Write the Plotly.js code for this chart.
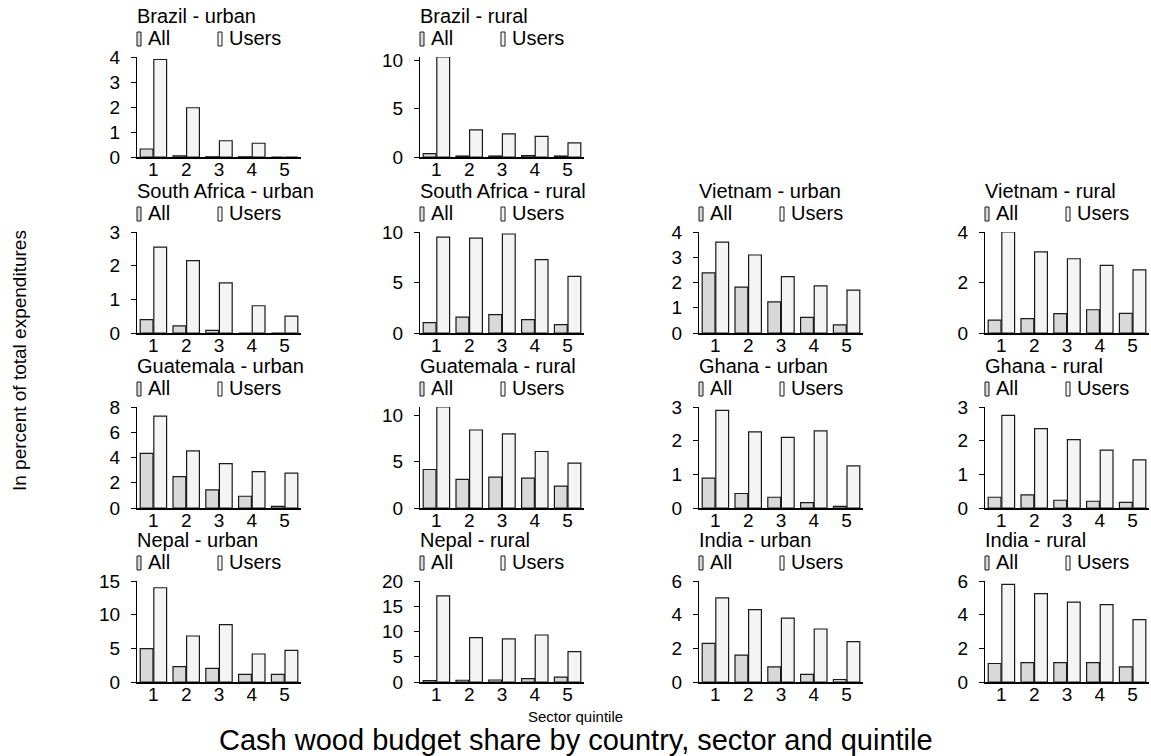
<!DOCTYPE html>
<html>
<head>
<meta charset="utf-8">
<script src="https://cdn.plot.ly/plotly-3.0.1.min.js"></script>
<style>
  html, body { margin: 0; padding: 0; background: #ffffff; }
  #chart { width: 1151px; height: 756px; }
</style>
</head>
<body>
<div id="chart"></div>
<script>
// Quintile categories on every panel's x axis
const quintiles = ['1', '2', '3', '4', '5'];

// Panel titles (country - sector)
const panelTitles = [
  'Brazil - urban', 'Brazil - rural',
  'South Africa - urban', 'South Africa - rural',
  'Vietnam - urban', 'Vietnam - rural',
  'Guatemala - urban', 'Guatemala - rural',
  'Ghana - urban', 'Ghana - rural',
  'Nepal - urban', 'Nepal - rural',
  'India - urban', 'India - rural'
];

// Cash wood budget share, all households (percent of total expenditures)
const brazilUrbanAll   = [0.32, 0.05, 0.01, 0.01, 0.0];
const brazilRuralAll   = [0.35, 0.10, 0.10, 0.15, 0.10];
const safricaUrbanAll  = [0.40, 0.21, 0.08, 0.0, 0.0];
const safricaRuralAll  = [1.02, 1.58, 1.82, 1.32, 0.83];
const vietnamUrbanAll  = [2.38, 1.82, 1.23, 0.62, 0.32];
const vietnamRuralAll  = [0.51, 0.57, 0.77, 0.92, 0.78];
const guatUrbanAll     = [4.32, 2.48, 1.44, 0.93, 0.13];
const guatRuralAll     = [4.17, 3.09, 3.35, 3.24, 2.37];
const ghanaUrbanAll    = [0.89, 0.43, 0.32, 0.16, 0.05];
const ghanaRuralAll    = [0.32, 0.39, 0.23, 0.20, 0.17];
const nepalUrbanAll    = [4.95, 2.28, 2.03, 1.14, 1.14];
const nepalRuralAll    = [0.30, 0.35, 0.40, 0.66, 0.98];
const indiaUrbanAll    = [2.30, 1.60, 0.90, 0.45, 0.15];
const indiaRuralAll    = [1.10, 1.15, 1.15, 1.15, 0.90];

// Cash wood budget share, wood users only
const brazilUrbanUsers  = [3.90, 1.97, 0.65, 0.55, 0.0];
const brazilRuralUsers  = [10.35, 2.80, 2.39, 2.14, 1.47];
const safricaUrbanUsers = [2.55, 2.15, 1.49, 0.81, 0.50];
const safricaRuralUsers = [9.50, 9.40, 9.80, 7.26, 5.61];
const vietnamUrbanUsers = [3.60, 3.09, 2.23, 1.87, 1.70];
const vietnamRuralUsers = [4.00, 3.21, 2.94, 2.68, 2.50];
const guatUrbanUsers    = [7.28, 4.53, 3.52, 2.88, 2.77];
const guatRuralUsers    = [10.94, 8.45, 8.02, 6.12, 4.86];
const ghanaUrbanUsers   = [2.90, 2.26, 2.10, 2.29, 1.25];
const ghanaRuralUsers   = [2.75, 2.36, 2.03, 1.72, 1.43];
const nepalUrbanUsers   = [14.0, 6.83, 8.51, 4.16, 4.70];
const nepalRuralUsers   = [17.05, 8.79, 8.52, 9.31, 6.03];
const indiaUrbanUsers   = [5.00, 4.30, 3.80, 3.15, 2.40];
const indiaRuralUsers   = [5.80, 5.25, 4.75, 4.60, 3.70];

const allSeries = [
  brazilUrbanAll, brazilRuralAll, safricaUrbanAll, safricaRuralAll,
  vietnamUrbanAll, vietnamRuralAll, guatUrbanAll, guatRuralAll,
  ghanaUrbanAll, ghanaRuralAll, nepalUrbanAll, nepalRuralAll,
  indiaUrbanAll, indiaRuralAll
];
const userSeries = [
  brazilUrbanUsers, brazilRuralUsers, safricaUrbanUsers, safricaRuralUsers,
  vietnamUrbanUsers, vietnamRuralUsers, guatUrbanUsers, guatRuralUsers,
  ghanaUrbanUsers, ghanaRuralUsers, nepalUrbanUsers, nepalRuralUsers,
  indiaUrbanUsers, indiaRuralUsers
];

// Y tick step and highest labelled tick for each panel
const tickStep = [1, 5, 1, 5, 1, 2, 2, 5, 1, 1, 5, 5, 2, 2];
const tickTop  = [4, 10, 3, 10, 4, 4, 8, 10, 3, 3, 15, 20, 6, 6];

// Legend labels
const seriesNames = ['All', 'Users'];

// ---- page geometry (pixels) ----
const W = 1151, H = 756;
const panelRow = [0, 0, 1, 1, 1, 1, 2, 2, 2, 2, 3, 3, 3, 3];
const panelCol = [0, 1, 0, 1, 2, 3, 0, 1, 2, 3, 0, 1, 2, 3];
const colLeft = [137, 420, 699, 985];
const plotW = 164;
const rowTop = [57, 232, 407, 581];
const rowBottom = [157, 333, 508, 682];

const FONT = 'Liberation Sans, Arial, sans-serif';
const fillAll = '#d9d9d9';
const fillUsers = '#f4f4f4';
const edge = '#1a1a1a';

const px = v => v / W;
const py = v => 1 - v / H;

const traces = [];
const layout = {
  width: W, height: H,
  margin: { l: 0, r: 0, t: 0, b: 0 },
  paper_bgcolor: '#ffffff',
  plot_bgcolor: '#ffffff',
  showlegend: false,
  barmode: 'group',
  bargap: 0.17,
  bargroupgap: 0.06,
  font: { family: FONT, color: '#000000' },
  annotations: [],
  shapes: []
};

panelTitles.forEach((title, k) => {
  const n = k + 1;
  const xa = n === 1 ? 'x' : 'x' + n;
  const ya = n === 1 ? 'y' : 'y' + n;
  const r = panelRow[k], c = panelCol[k];
  const left = colLeft[c];

  traces.push({
    type: 'bar', x: quintiles, y: allSeries[k], name: seriesNames[0],
    xaxis: xa, yaxis: ya,
    marker: { color: fillAll, line: { color: edge, width: 1.2 } },
    hoverinfo: 'skip'
  });
  traces.push({
    type: 'bar', x: quintiles, y: userSeries[k], name: seriesNames[1],
    xaxis: xa, yaxis: ya,
    marker: { color: fillUsers, line: { color: edge, width: 1.2 } },
    hoverinfo: 'skip'
  });

  const yMax = Math.max(tickTop[k], ...allSeries[k], ...userSeries[k]);
  const tv = [];
  for (let t = 0; t <= tickTop[k] + 1e-9; t += tickStep[k]) tv.push(t);

  layout['xaxis' + (n === 1 ? '' : n)] = {
    domain: [px(left), px(left + plotW)],
    anchor: ya,
    type: 'category',
    range: [-0.5, 4.5],
    showline: true, linecolor: '#000000', linewidth: 1.5,
    ticks: '', showgrid: false, zeroline: false,
    ticklabelstandoff: -5,
    tickfont: { family: FONT, size: 19, color: '#000000' },
    fixedrange: true
  };
  layout['yaxis' + (n === 1 ? '' : n)] = {
    domain: [py(rowBottom[r]), py(rowTop[r])],
    anchor: xa,
    range: [0, yMax],
    tickvals: tv, ticktext: tv.map(String),
    showline: true, linecolor: '#000000', linewidth: 1,
    ticks: 'outside', ticklen: 5, tickwidth: 1, tickcolor: '#000000',
    ticklabelstandoff: 7,
    showgrid: false, zeroline: false,
    tickfont: { family: FONT, size: 19, color: '#000000' },
    fixedrange: true
  };

  // panel title
  layout.annotations.push({
    xref: 'paper', yref: 'paper', x: px(left - 2), y: py(rowTop[r] - 41),
    xanchor: 'left', yanchor: 'middle', showarrow: false,
    text: title, font: { family: FONT, size: 20, color: '#000000' }
  });
  // legend keys and labels
  const keyTop = rowTop[r] - 25, keyBot = rowTop[r] - 11;
  [[0, fillAll], [81, fillUsers]].forEach(([dx, col], i) => {
    layout.shapes.push({
      type: 'rect', xref: 'paper', yref: 'paper',
      x0: px(left + dx), x1: px(left + dx + 4), y0: py(keyBot), y1: py(keyTop),
      fillcolor: col, line: { color: edge, width: 1 }
    });
    layout.annotations.push({
      xref: 'paper', yref: 'paper', x: px(left + dx + 9), y: py(rowTop[r] - 19),
      xanchor: 'left', yanchor: 'middle', showarrow: false,
      text: seriesNames[i], font: { family: FONT, size: 20, color: '#000000' }
    });
  });
});

// shared axis titles and overall title
layout.annotations.push({
  xref: 'paper', yref: 'paper', x: px(20), y: py(361),
  xanchor: 'center', yanchor: 'middle', textangle: -90, showarrow: false,
  text: 'In percent of total expenditures', font: { family: FONT, size: 19, color: '#000000' }
});
layout.annotations.push({
  xref: 'paper', yref: 'paper', x: px(575), y: py(716),
  xanchor: 'center', yanchor: 'middle', showarrow: false,
  text: 'Sector quintile', font: { family: FONT, size: 15, color: '#000000' }
});
layout.annotations.push({
  xref: 'paper', yref: 'paper', x: px(576), y: py(740),
  xanchor: 'center', yanchor: 'middle', showarrow: false,
  text: 'Cash wood budget share by country, sector and quintile',
  font: { family: FONT, size: 29, color: '#000000' }
});

Plotly.newPlot('chart', traces, layout, { displayModeBar: false, staticPlot: true });
</script>
</body>
</html>
